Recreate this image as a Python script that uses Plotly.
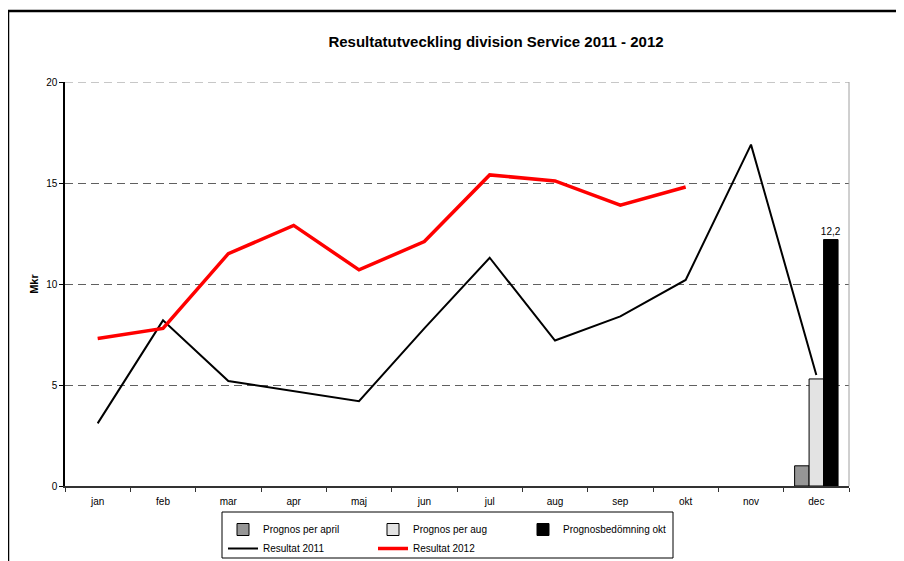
import plotly.graph_objects as go

months = ["jan", "feb", "mar", "apr", "maj", "jun", "jul", "aug", "sep", "okt", "nov", "dec"]
resultat_2011 = [3.1, 8.2, 5.2, 4.7, 4.2, 7.8, 11.3, 7.2, 8.4, 10.2, 16.9, 5.5]
resultat_2012 = [7.3, 7.8, 11.5, 12.9, 10.7, 12.1, 15.4, 15.1, 13.9, 14.8, None, None]
prognos_april = [None] * 11 + [1.0]
prognos_aug = [None] * 11 + [5.3]
prognos_okt = [None] * 11 + [12.2]

FONT = "Liberation Sans, Arial, sans-serif"

# page body has an 8px margin; figure is sized to fit inside the window
OFF = 8
W, H = 904 - OFF, 561 - OFF
L, R, T, B = 65 - OFF, 904 - 849, 82 - OFF, 561 - 486
pw, ph = W - L - R, H - T - B


def px_x(x):
    return (x - OFF - L) / pw


def px_y(y):
    return (H - B - (y - OFF)) / ph


fig = go.Figure()
fig.add_bar(x=months, y=prognos_april, name="Prognos per april",
            marker=dict(color="#969696", line=dict(color="black", width=1)),
            legend="legend")
fig.add_bar(x=months, y=prognos_aug, name="Prognos per aug",
            marker=dict(color="#e3e3e3", line=dict(color="black", width=1)),
            legend="legend")
fig.add_bar(x=months, y=prognos_okt, name="Prognosbedömning okt",
            marker=dict(color="black", line=dict(color="black", width=1)),
            texttemplate="%{y:.1f}", textposition="outside", constraintext="none",
            textfont=dict(size=10, color="black", family=FONT),
            cliponaxis=False, legend="legend")
fig.add_scatter(x=months, y=resultat_2011, name="Resultat 2011", mode="lines",
                line=dict(color="black", width=2), legend="legend2")
fig.add_scatter(x=months, y=resultat_2012, name="Resultat 2012", mode="lines",
                line=dict(color="#ff0000", width=3.5), legend="legend2")

fig.update_layout(
    width=W, height=H,
    margin=dict(l=L, r=R, t=T, b=B, autoexpand=False),
    paper_bgcolor="white", plot_bgcolor="white",
    separators=", ",
    font=dict(family=FONT, size=10, color="black"),
    title=dict(text="<b>Resultatutveckling division Service 2011 - 2012</b>",
               x=(496 - OFF) / W, xanchor="center", y=1 - (42 - OFF) / H, yanchor="middle",
               font=dict(size=15, family=FONT, color="black")),
    barmode="group", bargap=0.335, bargroupgap=0,
    showlegend=True,
    legend=dict(orientation="h", x=px_x(223), xanchor="left", y=px_y(515), yanchor="top",
                entrywidth=105, entrywidthmode="pixels",
                font=dict(size=10, family=FONT), bgcolor="rgba(0,0,0,0)",
                itemwidth=30),
    legend2=dict(orientation="h", x=px_x(223), xanchor="left", y=px_y(534), yanchor="top",
                 entrywidth=105, entrywidthmode="pixels",
                 font=dict(size=10, family=FONT), bgcolor="rgba(0,0,0,0)",
                 itemwidth=30),
    xaxis=dict(type="category", tickson="boundaries", ticks="outside", ticklen=4,
               tickcolor="#333333", showline=True, linecolor="#333333", linewidth=1.5,
               showgrid=False, tickfont=dict(size=10, family=FONT), fixedrange=True,
               ticklabelstandoff=5),
    yaxis=dict(range=[0, 20], dtick=5, ticks="outside", ticklen=4, tickcolor="black",
               showline=True, linecolor="black", linewidth=1.5,
               showgrid=True, gridcolor="#606060", griddash="8px,5px", gridwidth=1,
               zeroline=False, tickfont=dict(size=10, family=FONT),
               title=dict(text="<b>Mkr</b>", font=dict(size=11, family=FONT), standoff=5)),
    shapes=[
        # top gridline at 20
        dict(type="line", xref="paper", yref="y", x0=0, x1=1, y0=20, y1=20,
             line=dict(color="#909090", width=1, dash="8px,5px"), layer="below"),
        # right border of plot area
        dict(type="line", xref="paper", yref="paper", x0=1, x1=1, y0=0, y1=1,
             line=dict(color="#a0a0a0", width=1)),
        # outer frame (left and top)
        dict(type="line", xref="paper", yref="paper", x0=px_x(8), x1=px_x(8),
             y0=px_y(11), y1=px_y(575), line=dict(color="black", width=2.5)),
        dict(type="line", xref="paper", yref="paper", x0=px_x(8), x1=px_x(920),
             y0=px_y(11), y1=px_y(11), line=dict(color="black", width=2.5)),
        # legend box
        dict(type="rect", xref="paper", yref="paper", x0=px_x(222), x1=px_x(673),
             y0=px_y(512), y1=px_y(558), line=dict(color="black", width=1)),
    ],
)

fig.write_html("out.html")
